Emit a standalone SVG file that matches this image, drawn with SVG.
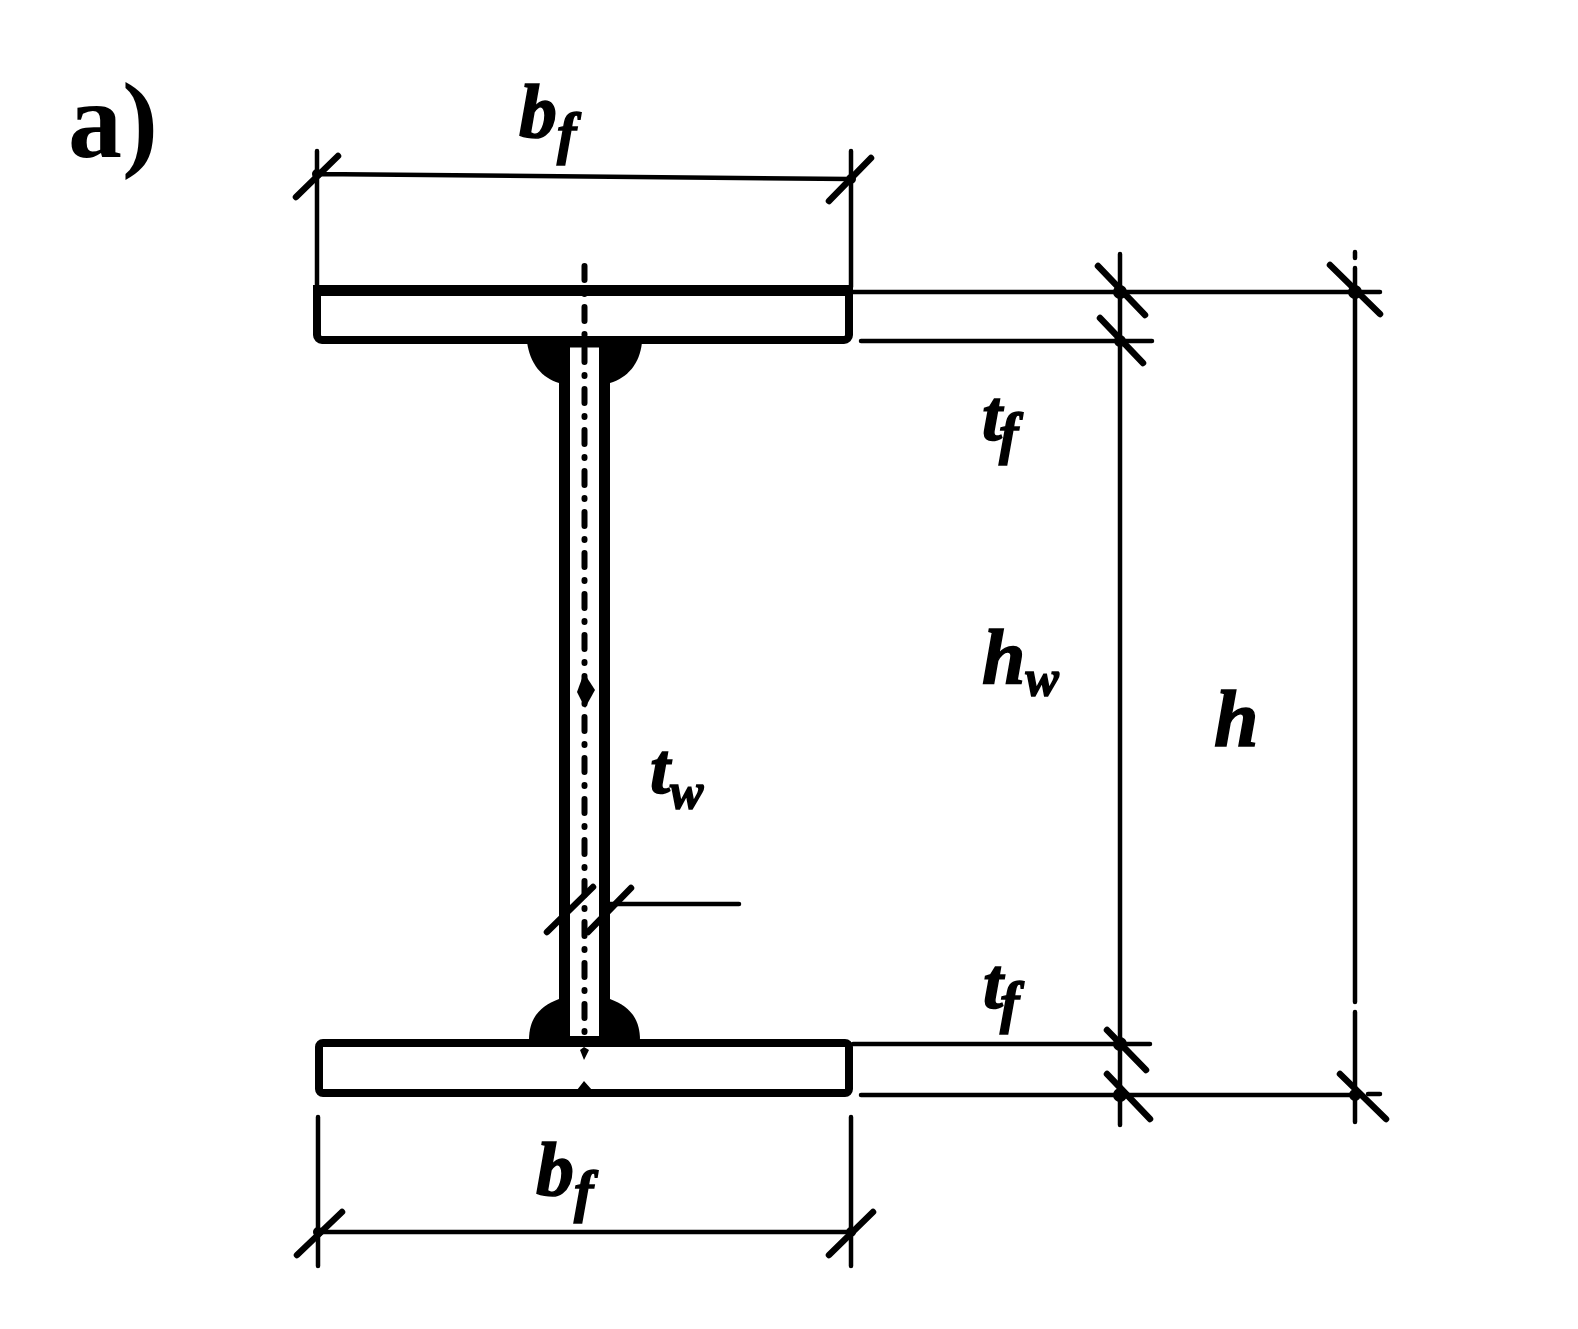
<svg xmlns="http://www.w3.org/2000/svg" width="1578" height="1329" viewBox="0 0 1578 1329">
<style>
.dim{fill:none;stroke:#000;stroke-width:4.500;stroke-linecap:round}
.tick{fill:none;stroke:#000;stroke-width:6.500;stroke-linecap:round}
.plate{fill:#fff;stroke:#000;stroke-linejoin:round}
.axis{fill:none;stroke:#000;stroke-width:6;stroke-linecap:round;stroke-dasharray:14 13 1 13}
.lab{font-family:"Liberation Serif",serif;font-style:italic;font-weight:bold;fill:#000;stroke:#000;stroke-width:1.500}
.sub{font-size:58px}
.subw{font-size:50px}
</style>
<rect width="1578" height="1329" fill="#fff"/>
<g id="connectors">
<path class="dim" d="M317 151V287M851 151V287M315 174L850 179"/>
<path class="tick" d="M296 197L338 156M829 201L871 158"/>
<path class="dim" d="M853 292H1380M861 341H1152M853 1044H1150M861 1095H1360M1368 1094H1380"/>
<path class="dim" d="M1120 254V1125M1355 252V258M1355 268V1002M1355 1012V1122"/>
<path class="tick" d="M1098 266L1145 315M1100 318L1143 363M1330 265L1380 314M1107 1030L1146 1070M1107 1074L1150 1119M1340 1074L1386 1119"/>
<path class="dim" d="M318 1117V1266M851 1117V1266M318 1232H851"/>
<path class="tick" d="M297 1255L342 1212M829 1255L873 1212"/>
<path d="M1120 292m-7 0a7 7 0 1 0 14 0a7 7 0 1 0 -14 0M1120 341m-6 0a6 6 0 1 0 12 0a6 6 0 1 0 -12 0M1355 292m-7 0a7 7 0 1 0 14 0a7 7 0 1 0 -14 0M1120 1044m-7 0a7 7 0 1 0 14 0a7 7 0 1 0 -14 0M1120 1095m-7 0a7 7 0 1 0 14 0a7 7 0 1 0 -14 0M1355 1095m-6 0a6 6 0 1 0 12 0a6 6 0 1 0 -12 0M317 174m-5 0a5 5 0 1 0 10 0a5 5 0 1 0 -10 0M851 179m-5 0a5 5 0 1 0 10 0a5 5 0 1 0 -10 0M318 1232m-5 0a5 5 0 1 0 10 0a5 5 0 1 0 -10 0M851 1232m-5 0a5 5 0 1 0 10 0a5 5 0 1 0 -10 0" fill="#000"/>
</g>
<g id="section">
<path id="weld-top" d="M527 342C530 364 542 378 559 383H610C627 378 640 364 642 342Z" fill="#000"/>
<path id="weld-bottom" d="M529 1040C529 1018 540 1006 559 999H610C629 1006 640 1018 640 1040Z" fill="#000"/>
<rect id="web" class="plate" x="564.500" y="342" width="40" height="698" stroke-width="11"/>
<rect id="flange-top" x="317" y="290" width="532" height="50" rx="5" class="plate" stroke-width="8"/>
<rect id="flange-top-edge" x="313" y="285" width="540" height="11" fill="#000"/>
<rect id="flange-bottom" x="319" y="1043" width="530" height="50" rx="4" class="plate" stroke-width="8"/>
<path id="web-open-top" d="M570 348H599V383H570Z" fill="#fff"/>
<path id="web-open-bottom" d="M570 1000H599V1036H570Z" fill="#fff"/>
</g>
<g id="axis">
<path class="axis" d="M584.500 266V1034"/>
<path d="M584 673L595 690L585 708L577 692Z" fill="#000"/>
<path d="M584 1047L589 1050L584 1060L580 1050ZM584 1081L592 1090H577Z" fill="#000"/>
</g>
<g id="tw-leader">
<path class="dim" d="M604 904H739"/>
<path class="tick" d="M547 932L593 887M588 932L631 888"/>
</g>
<g id="labels">
<text x="68" y="157" font-family="Liberation Serif,serif" font-weight="bold" font-size="108">a)</text>
<text class="lab" x="519" y="137" font-size="76">b<tspan class="sub" dy="16">f</tspan></text>
<text class="lab" x="536" y="1195" font-size="76">b<tspan class="sub" dy="16">f</tspan></text>
<text class="lab" x="982" y="440" font-size="72">t<tspan class="sub" dx="-3" dy="13">f</tspan></text>
<text class="lab" x="983" y="1008" font-size="72">t<tspan class="sub" dx="-3" dy="14">f</tspan></text>
<text class="lab" x="982" y="683" font-size="78">h<tspan class="subw" dy="12">w</tspan></text>
<text class="lab" x="1214" y="746" font-size="80">h</text>
<text class="lab" x="650" y="793" font-size="72">t<tspan class="subw" dy="15">w</tspan></text>
</g>
</svg>
